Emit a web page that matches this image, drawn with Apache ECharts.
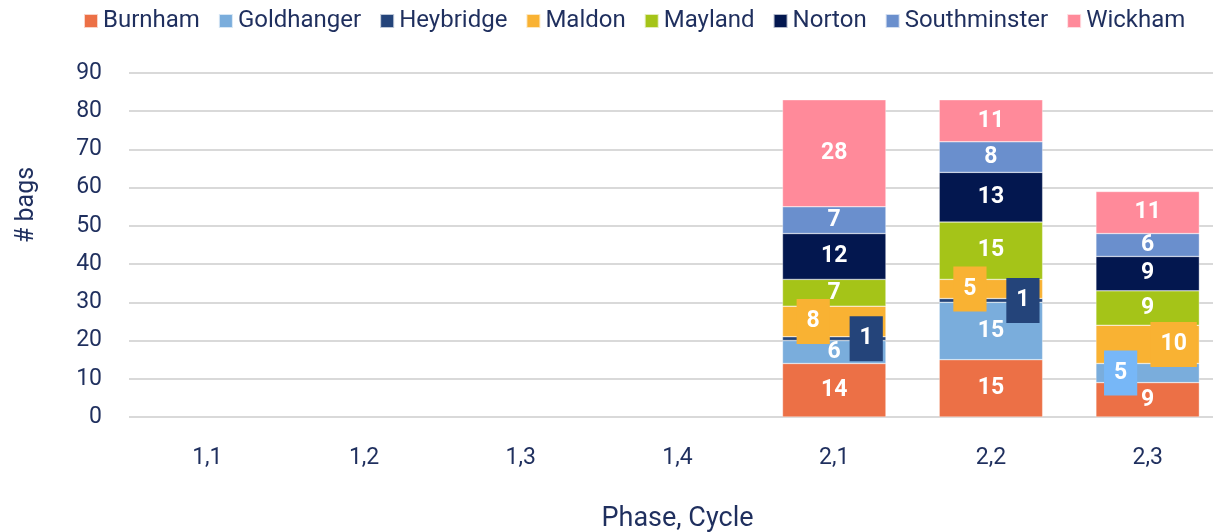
<!DOCTYPE html>
<html>
<head>
<meta charset="utf-8">
<script src="https://cdn.jsdelivr.net/npm/echarts@6/dist/echarts.min.js"></script>
<style>
  html, body { margin: 0; padding: 0; background: #fff; }
  #chart { width: 1213px; height: 532px; }
</style>
</head>
<body>
<div id="chart"></div>
<script>
const categories = ["1,1", "1,2", "1,3", "1,4", "2,1", "2,2", "2,3"]
const seriesNames = ["Burnham", "Goldhanger", "Heybridge", "Maldon", "Mayland", "Norton", "Southminster", "Wickham"]

const burnham      = ["-", "-", "-", "-", 14, 15, 9]
const goldhanger   = ["-", "-", "-", "-", 6, 15, 5]
const heybridge    = ["-", "-", "-", "-", 1, 1, "-"]
const maldon       = ["-", "-", "-", "-", 8, 5, 10]
const mayland      = ["-", "-", "-", "-", 7, 15, 9]
const norton       = ["-", "-", "-", "-", 12, 13, 9]
const southminster = ["-", "-", "-", "-", 7, 8, 6]
const wickham      = ["-", "-", "-", "-", 28, 11, 11]

const yTicks = { min: 0, max: 90, interval: 10 }

const values = [burnham, goldhanger, heybridge, maldon, mayland, norton, southminster, wickham]
const colors = ["#EC7046", "#7AADDC", "#24447A", "#F9B233", "#A5C418", "#03174F", "#6A8FCD", "#FF8A9A"]

// callout labels pushed sideways with a coloured box: series-categoryIndex -> x shift, box colour
const callouts = {
  "Heybridge-4": { dx: 32, bg: "#24447A" },
  "Heybridge-5": { dx: 32, bg: "#24447A" },
  "Maldon-4": { dx: -21, bg: "#F9B233" },
  "Maldon-5": { dx: -21, bg: "#F9B233" },
  "Maldon-6": { dx: 26, bg: "#F9B233" },
  "Goldhanger-6": { dx: -27, bg: "#77B7F7" },
}

const textColor = "#1F2F5E"
const font = "Roboto"

const chart = echarts.init(document.getElementById("chart"), null, { renderer: "canvas" })

const series = seriesNames.map((name, s) => ({
  name,
  type: "bar",
  stack: "total",
  barWidth: "66%",
  itemStyle: { color: colors[s], borderColor: "rgba(255,255,255,0.7)", borderWidth: 0.5 },
  label: {
    show: true,
    position: "inside",
    color: "#fff",
    fontFamily: font,
    fontWeight: "bold",
    fontSize: 23,
  },
  data: values[s].map((v, i) => {
    const c = callouts[name + "-" + i]
    if (!c) return v
    return {
      value: v,
      label: {
        offset: [c.dx, 0],
        backgroundColor: c.bg,
        padding: [11, 10, 11, 10],
      },
    }
  }),
}))

chart.setOption({
  animation: false,
  textStyle: { fontFamily: font },
  color: colors,
  legend: {
    top: 9,
    left: 83,
    width: 1128,
    padding: 0,
    itemWidth: 14,
    itemHeight: 14,
    itemGap: 18,
    icon: "rect",
    textStyle: { color: textColor, fontSize: 24, fontFamily: font },
    data: seriesNames,
  },
  grid: {
    left: 129,
    width: 1097,
    top: 73,
    bottom: 115,
    containLabel: false,
    outerBoundsMode: "none",
  },
  xAxis: {
    type: "category",
    data: categories,
    name: "Phase, Cycle",
    nameLocation: "middle",
    nameGap: 89,
    nameTextStyle: { color: textColor, fontSize: 27, fontFamily: font },
    axisLine: { show: false },
    axisTick: { show: false },
    axisLabel: { color: textColor, fontSize: 23, margin: 30, fontFamily: font },
  },
  yAxis: {
    type: "value",
    min: yTicks.min,
    max: yTicks.max,
    interval: yTicks.interval,
    axisLine: { show: false },
    axisTick: { show: false },
    axisLabel: { color: textColor, fontSize: 23, margin: 27, fontFamily: font },
    splitLine: { lineStyle: { color: "#D9D9D9", width: 2 } },
  },
  graphic: [
    {
      type: "text",
      x: 27,
      y: 205,
      rotation: Math.PI / 2,
      style: {
        text: "# bags",
        fill: textColor,
        fontSize: 25,
        fontFamily: font,
        align: "center",
        verticalAlign: "middle",
      },
    },
  ],
  series,
})
</script>
</body>
</html>
